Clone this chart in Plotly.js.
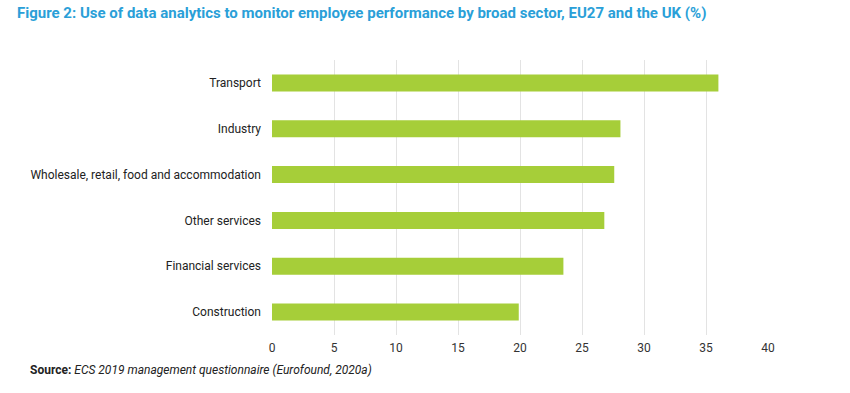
<!DOCTYPE html>
<html>
<head>
<meta charset="utf-8">
<script src="https://cdn.plot.ly/plotly-3.0.1.min.js"></script>
<style>html,body{margin:0;padding:0;background:#fff;}#chart{width:850px;height:393px;}</style>
</head>
<body>
<div id="chart"></div>
<script>
var categories = ["Construction", "Financial services", "Other services", "Wholesale, retail, food and accommodation", "Industry", "Transport"];
var values = [19.9, 23.5, 26.8, 27.6, 28.1, 36.0];
var tickVals = [0, 5, 10, 15, 20, 25, 30, 35, 40];

var trace = {
  type: "bar",
  orientation: "h",
  x: values,
  y: categories,
  marker: {color: "#a6ce39"},
  width: 0.37,
  hoverinfo: "x+y"
};

var layout = {
  width: 850,
  height: 393,
  paper_bgcolor: "#ffffff",
  plot_bgcolor: "#ffffff",
  margin: {l: 272, r: 82, t: 60, b: 57.5},
  showlegend: false,
  font: {family: "Roboto, 'Open Sans', sans-serif", color: "#333333", size: 12},
  title: {
    text: "<b>Figure 2: Use of data analytics to monitor employee performance by broad sector, EU27 and the UK (%)</b>",
    font: {family: "Roboto, sans-serif", size: 15, color: "#2a9fd8"},
    xref: "container", x: 0.02, xanchor: "left",
    yref: "container", y: 0.968, yanchor: "middle"
  },
  xaxis: {
    range: [0, 40],
    tickvals: tickVals,
    showgrid: true,
    gridcolor: "#e3e3e3",
    gridwidth: 1,
    zeroline: false,
    showline: false,
    ticks: "",
    ticklabelstandoff: 4,
    tickfont: {size: 12, color: "#333333"},
    fixedrange: true
  },
  yaxis: {
    type: "category",
    range: [-0.5, 5.5],
    showgrid: false,
    zeroline: false,
    showline: false,
    ticks: "",
    ticklabelstandoff: 10,
    tickfont: {size: 12, color: "#222222"},
    automargin: false,
    fixedrange: true
  },
  annotations: [{
    xref: "paper", yref: "paper",
    x: -0.492, y: -0.096,
    xanchor: "left", yanchor: "top",
    showarrow: false,
    align: "left",
    text: "<b>Source:</b> <i>ECS 2019 management questionnaire (Eurofound, 2020a)</i>",
    font: {size: 12, color: "#222222"}
  }]
};

Plotly.newPlot("chart", [trace], layout, {displayModeBar: false, staticPlot: true});
</script>
</body>
</html>
